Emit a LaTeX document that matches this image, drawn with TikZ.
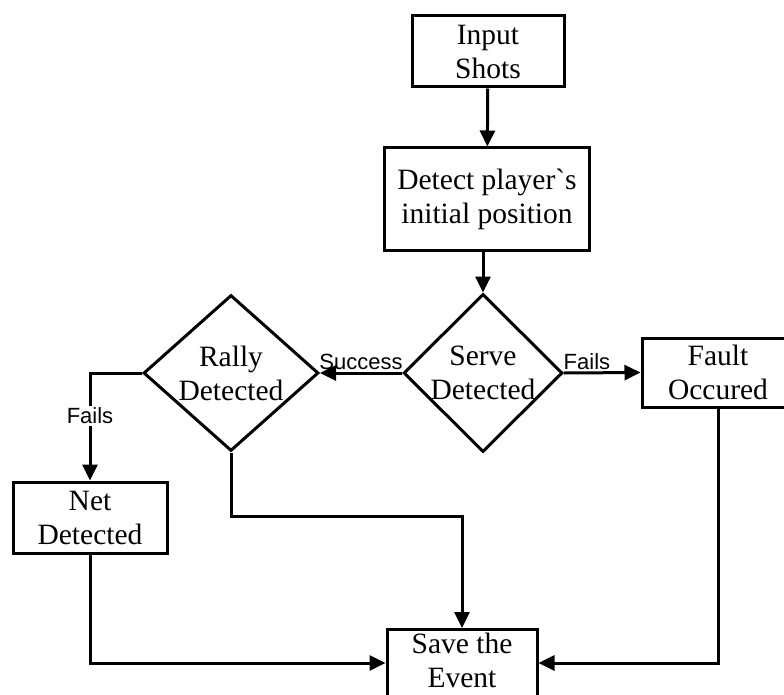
\documentclass[tikz,border=0pt]{standalone}
\usepackage{fontspec}
\setmainfont{Liberation Serif}
\newfontfamily\tagfont{Liberation Sans}
\usetikzlibrary{shapes.geometric,arrows.meta}

\begin{document}
\begin{tikzpicture}[x=1pt,y=-1pt,line width=3pt,
    >={Triangle[length=16pt,width=15pt]},
    box/.style={draw,rectangle,align=center,inner sep=0pt,
      font=\fontsize{29.5}{34}\selectfont},
    decision/.style={draw,diamond,aspect=1,inner sep=0pt,align=center,
      font=\fontsize{29.5}{34}\selectfont},
    tag/.style={inner sep=2pt,font=\tagfont\fontsize{22}{26}\selectfont}]
\useasboundingbox (0,0) rectangle (784,695);
\clip (0,0) rectangle (784,695);
% boxes and decisions
\node[box,minimum width=152pt,minimum height=71pt] (input) at (488,51.5) {Input\\Shots};
\node[box,minimum width=205pt,minimum height=102pt] (detect) at (487,199) {Detect player\textasciigrave s\\initial position};
\node[decision,minimum width=159pt,minimum height=158pt] (serve) at (483,373)
    {\makebox[0pt]{Serve}\\\makebox[0pt]{Detected}};
\node[decision,minimum width=175pt,minimum height=156pt] (rally) at (231,373)
    {\makebox[0pt]{Rally}\\\makebox[0pt]{Detected}};
\node[box,minimum width=152pt,minimum height=69pt] (fault) at (718,372.5) {Fault\\Occured};
\node[box,minimum width=154pt,minimum height=71pt] (net) at (90,517.5) {Net\\Detected};
\node[box,minimum width=150pt,anchor=north,inner ysep=4pt,text depth=60pt] (save) at (462,628) {Save the\\Event};
% connectors
\draw[->] (input) -- (detect);
\draw[->] (detect.south -| serve.north) -- (serve.north);
\draw[->] (serve.west) -- node[tag,above] {Success} (rally.east);
\draw[->] (serve.east) -- node[tag,above,pos=0.3] {Fails} (fault.west);
\draw[->] (rally.west) -| node[tag,fill=white,pos=0.7] {Fails} (net.north);
\draw[->] (rally.south) -- ++(0,64) -| (save.north);
\draw[->] (net.south) |- ([yshift=-35pt]save.north west);
\draw[->] (fault.south) |- ([yshift=-35pt]save.north east);
\end{tikzpicture}
\end{document}
